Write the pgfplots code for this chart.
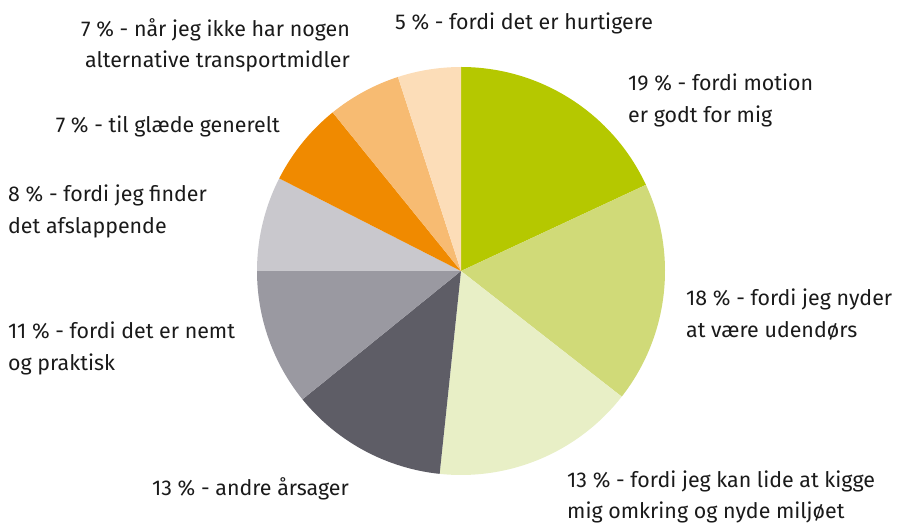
\documentclass[border=0pt]{standalone}
\usepackage{pgfplots}
\usepackage{pgfplotstable}
\pgfplotsset{compat=1.18}
\usepackage{fontspec}
\setmainfont{Fira Sans}
\definecolor{s1}{HTML}{B5C800}
\definecolor{s2}{HTML}{D0DA78}
\definecolor{s3}{HTML}{E8EFC6}
\definecolor{s4}{HTML}{5E5D66}
\definecolor{s5}{HTML}{9A99A1}
\definecolor{s6}{HTML}{C9C8CD}
\definecolor{s7}{HTML}{F08A00}
\definecolor{s8}{HTML}{F7BB72}
\definecolor{s9}{HTML}{FCDDB8}
\definecolor{txt}{HTML}{1A1A1A}
% slice sizes (share of the full circle, in percent, as drawn)
\pgfplotstableread{
share col
18.06 s1
17.50 s2
16.11 s3
12.50 s4
10.83 s5
7.50 s6
6.67 s7
5.83 s8
5.00 s9
}\piedata
\begin{document}
\begin{tikzpicture}[every node/.style={font=\fontsize{21.4}{25}\selectfont, text=txt, inner sep=0pt}]
\begin{axis}[hide axis, x=1pt, y=1pt, xmin=0, xmax=899, ymin=0, ymax=530, clip=false, scale only axis]
\path (axis cs:0,0) rectangle (axis cs:899,530);
\pgfplotsextra{
  \pgfplotstablegetrowsof{\piedata}
  \pgfmathtruncatemacro{\N}{\pgfplotsretval-1}
  \xdef\cum{90}
  \foreach \i in {0,...,\N}{
    \pgfplotstablegetelem{\i}{share}\of\piedata \let\myshare\pgfplotsretval
    \pgfplotstablegetelem{\i}{col}\of\piedata \let\mycol\pgfplotsretval
    \pgfmathsetmacro{\endang}{\cum-3.6*\myshare}
    \fill[fill=\mycol] (axis cs:461,259) -- ++(\cum:204pt) arc[start angle=\cum, end angle=\endang, radius=204pt] -- cycle;
    \xdef\cum{\endang}
  }
}
% labels (y = 530 - pixel baseline)
\node[anchor=base west] at (axis cs:395,500) {5 \% - fordi det er hurtigere};
\node[anchor=base west] at (axis cs:628,439) {19 \% - fordi motion};
\node[anchor=base west] at (axis cs:628,407) {er godt for mig};
\node[anchor=base west] at (axis cs:686,224) {18 \% - fordi jeg nyder};
\node[anchor=base west] at (axis cs:686,192) {at være udendørs};
\node[anchor=base west] at (axis cs:567,43) {13 \% - fordi jeg kan lide at kigge};
\node[anchor=base west] at (axis cs:567,12) {mig omkring og nyde miljøet};
\node[anchor=base east] at (axis cs:349,35) {13 \% - andre årsager};
\node[anchor=base west] at (axis cs:8,191) {11 \% - fordi det er nemt};
\node[anchor=base west] at (axis cs:8,159) {og praktisk};
\node[anchor=base west] at (axis cs:8,328) {8 \% - fordi jeg finder};
\node[anchor=base west] at (axis cs:8,296) {det afslappende};
\node[anchor=base east] at (axis cs:280,397) {7 \% - til glæde generelt};
\node[anchor=base east] at (axis cs:350,493) {7 \% - når jeg ikke har nogen};
\node[anchor=base east] at (axis cs:350,462) {alternative transportmidler};
\end{axis}
\end{tikzpicture}
\end{document}
